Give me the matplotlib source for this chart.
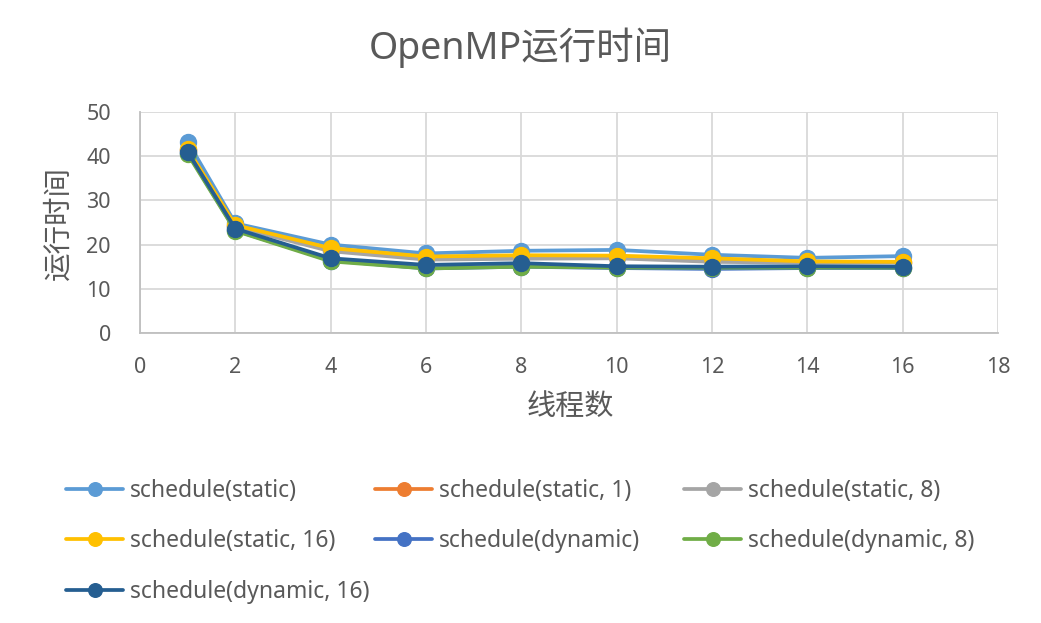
import matplotlib
matplotlib.use("Agg")
import matplotlib.pyplot as plt

plt.rcParams['font.family'] = ['Noto Sans', 'Noto Sans CJK SC', 'DejaVu Sans']

threads = [1, 2, 4, 6, 8, 10, 12, 14, 16]
static = [43.3, 24.8, 20.0, 18.0, 18.6, 18.8, 17.7, 17.0, 17.4]
static_1 = [41.5, 24.3, 18.8, 17.0, 17.2, 17.3, 16.5, 16.0, 16.1]
static_8 = [41.3, 24.0, 18.5, 16.6, 16.8, 16.9, 16.1, 15.9, 15.9]
static_16 = [41.6, 24.4, 19.2, 17.3, 17.6, 17.5, 16.9, 16.2, 16.1]
dynamic = [40.8, 23.2, 16.4, 14.6, 15.0, 14.7, 14.5, 14.7, 14.7]
dynamic_8 = [40.5, 23.1, 16.2, 14.6, 15.0, 14.8, 14.8, 14.8, 14.8]
dynamic_16 = [41.0, 23.6, 16.9, 15.4, 15.8, 15.1, 15.0, 15.1, 15.0]

labels = ['schedule(static)', 'schedule(static, 1)', 'schedule(static, 8)',
          'schedule(static, 16)', 'schedule(dynamic)', 'schedule(dynamic, 8)',
          'schedule(dynamic, 16)']
series = [static, static_1, static_8, static_16, dynamic, dynamic_8, dynamic_16]
colors = ['#5B9BD5', '#ED7D31', '#A5A5A5', '#FFC000', '#4472C4', '#70AD47', '#255E91']

text_color = '#595959'

fig = plt.figure(figsize=(10.41, 6.23), dpi=100)
ax = fig.add_axes([140 / 1041, 1 - 333 / 623, 858 / 1041, 221 / 623])

handles = []
for ys, lab, c in zip(series, labels, colors):
    h, = ax.plot(threads, ys, color=c, linewidth=2.7, marker='o',
                 markersize=11.5, label=lab, solid_capstyle='round')
    handles.append(h)

ax.set_xlim(0, 18)
ax.set_ylim(0, 50)
ax.set_xticks(range(0, 19, 2))
ax.set_yticks(range(0, 51, 10))
ax.grid(True, color='#D9D9D9', linewidth=1.3)
ax.set_axisbelow(True)
for s in ['top', 'right']:
    ax.spines[s].set_visible(False)
for s in ['left', 'bottom']:
    ax.spines[s].set_color('#BFBFBF')
    ax.spines[s].set_linewidth(1.3)
ax.tick_params(length=0, labelsize=15.5, colors=text_color)
ax.tick_params(axis='y', pad=21)
ax.tick_params(axis='x', pad=17)

ax.set_xlabel('线程数', fontsize=21, color=text_color)
ax.set_ylabel('运行时间', fontsize=20.5, color=text_color)
ax.xaxis.set_label_coords(0.501, -0.27)
ax.yaxis.set_label_coords(-0.077, 0.5)

fig.text(0.5, 1 - 48 / 623, 'OpenMP运行时间', fontsize=27, color=text_color,
         ha='center', va='center')

# excel lays the legend out row by row in equal-width columns,
# so draw one legend per column
ncol = 3
col_x = [66, 375, 684]
for k in range(ncol):
    idx = list(range(k, len(handles), ncol))
    leg = fig.legend([handles[i] for i in idx], [labels[i] for i in idx],
                     loc='upper left', bbox_to_anchor=(col_x[k] / 1041, 1 - 479 / 623),
                     frameon=False, fontsize=16.5, handlelength=2.5, handletextpad=0.3,
                     labelspacing=1.15, markerscale=0.85,
                     borderaxespad=0, borderpad=0)
    for t in leg.get_texts():
        t.set_color(text_color)

fig.savefig('out.png', dpi=100)
